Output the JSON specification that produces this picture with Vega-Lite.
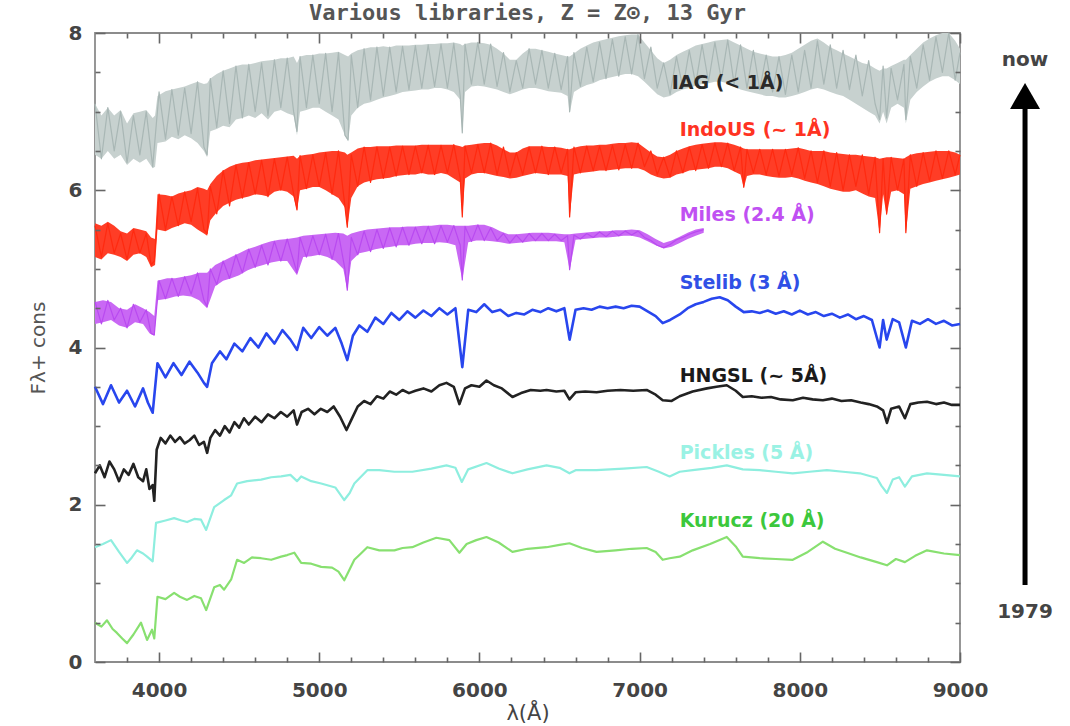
{
"$schema": "https://vega.github.io/schema/vega-lite/v6.json",
"width": 865, "height": 629,
"autosize": {"type": "none"},
"padding": {"left": 95, "top": 33, "right": 110, "bottom": 64},
"background": "white",
"config": {
  "view": {"stroke": "#8c8c8c", "strokeWidth": 1.8},
  "axis": {"grid": false, "domain": false, "labelFlush": false, "ticks": true, "tickColor": "#666666", "tickWidth": 1.6, "tickOpacity": 1, "labelFont": "DejaVu Sans", "labelFontWeight": "bold", "labelFontSize": 20, "labelColor": "#444444", "titleFont": "DejaVu Sans", "titleFontWeight": "normal", "titleColor": "#444444"}
},
"title": {"text": "Various libraries, Z = Z⊙, 13 Gyr", "font": "DejaVu Sans Mono", "fontSize": 22, "fontWeight": "bold", "color": "#555555", "offset": -2, "anchor": "middle"},
"datasets": {
 "band": [
{"s":"IAG","x":3600,"lo":6.45,"hi":7.10},{"s":"IAG","x":3640,"lo":6.40,"hi":6.95},{"s":"IAG","x":3680,"lo":6.50,"hi":7.05},{"s":"IAG","x":3720,"lo":6.40,"hi":6.95},{"s":"IAG","x":3760,"lo":6.45,"hi":7.02},{"s":"IAG","x":3800,"lo":6.32,"hi":6.85},{"s":"IAG","x":3840,"lo":6.40,"hi":6.98},{"s":"IAG","x":3880,"lo":6.35,"hi":7.00},{"s":"IAG","x":3920,"lo":6.40,"hi":7.02},{"s":"IAG","x":3960,"lo":6.28,"hi":6.92},{"s":"IAG","x":3975,"lo":6.30,"hi":6.95},{"s":"IAG","x":3990,"lo":6.60,"hi":7.20},{"s":"IAG","x":4040,"lo":6.62,"hi":7.26},{"s":"IAG","x":4080,"lo":6.68,"hi":7.28},{"s":"IAG","x":4120,"lo":6.65,"hi":7.30},{"s":"IAG","x":4160,"lo":6.70,"hi":7.32},{"s":"IAG","x":4200,"lo":6.66,"hi":7.35},{"s":"IAG","x":4240,"lo":6.60,"hi":7.38},{"s":"IAG","x":4280,"lo":6.50,"hi":7.35},{"s":"IAG","x":4300,"lo":6.42,"hi":7.36},{"s":"IAG","x":4320,"lo":6.75,"hi":7.42},{"s":"IAG","x":4360,"lo":6.78,"hi":7.48},{"s":"IAG","x":4400,"lo":6.82,"hi":7.52},{"s":"IAG","x":4440,"lo":6.80,"hi":7.55},{"s":"IAG","x":4480,"lo":6.90,"hi":7.58},{"s":"IAG","x":4520,"lo":6.92,"hi":7.60},{"s":"IAG","x":4560,"lo":6.95,"hi":7.60},{"s":"IAG","x":4600,"lo":6.92,"hi":7.62},{"s":"IAG","x":4640,"lo":6.98,"hi":7.64},{"s":"IAG","x":4680,"lo":6.90,"hi":7.65},{"s":"IAG","x":4720,"lo":7.00,"hi":7.66},{"s":"IAG","x":4760,"lo":7.02,"hi":7.68},{"s":"IAG","x":4800,"lo":6.98,"hi":7.68},{"s":"IAG","x":4840,"lo":6.95,"hi":7.70},{"s":"IAG","x":4861,"lo":6.70,"hi":7.62},{"s":"IAG","x":4880,"lo":7.00,"hi":7.70},{"s":"IAG","x":4920,"lo":7.02,"hi":7.72},{"s":"IAG","x":4960,"lo":7.05,"hi":7.72},{"s":"IAG","x":5000,"lo":7.05,"hi":7.74},{"s":"IAG","x":5040,"lo":7.00,"hi":7.74},{"s":"IAG","x":5080,"lo":6.95,"hi":7.75},{"s":"IAG","x":5120,"lo":6.90,"hi":7.76},{"s":"IAG","x":5160,"lo":6.70,"hi":7.72},{"s":"IAG","x":5180,"lo":6.62,"hi":7.70},{"s":"IAG","x":5200,"lo":6.95,"hi":7.74},{"s":"IAG","x":5240,"lo":7.05,"hi":7.78},{"s":"IAG","x":5280,"lo":7.10,"hi":7.80},{"s":"IAG","x":5320,"lo":7.12,"hi":7.82},{"s":"IAG","x":5360,"lo":7.15,"hi":7.82},{"s":"IAG","x":5400,"lo":7.18,"hi":7.83},{"s":"IAG","x":5440,"lo":7.20,"hi":7.82},{"s":"IAG","x":5480,"lo":7.22,"hi":7.84},{"s":"IAG","x":5520,"lo":7.25,"hi":7.84},{"s":"IAG","x":5560,"lo":7.26,"hi":7.84},{"s":"IAG","x":5600,"lo":7.27,"hi":7.85},{"s":"IAG","x":5640,"lo":7.28,"hi":7.85},{"s":"IAG","x":5680,"lo":7.28,"hi":7.86},{"s":"IAG","x":5720,"lo":7.30,"hi":7.86},{"s":"IAG","x":5760,"lo":7.30,"hi":7.87},{"s":"IAG","x":5800,"lo":7.28,"hi":7.87},{"s":"IAG","x":5840,"lo":7.25,"hi":7.88},{"s":"IAG","x":5880,"lo":7.15,"hi":7.86},{"s":"IAG","x":5893,"lo":6.72,"hi":7.84},{"s":"IAG","x":5910,"lo":7.25,"hi":7.86},{"s":"IAG","x":5950,"lo":7.32,"hi":7.88},{"s":"IAG","x":5990,"lo":7.33,"hi":7.88},{"s":"IAG","x":6030,"lo":7.32,"hi":7.87},{"s":"IAG","x":6070,"lo":7.30,"hi":7.85},{"s":"IAG","x":6110,"lo":7.28,"hi":7.80},{"s":"IAG","x":6150,"lo":7.25,"hi":7.74},{"s":"IAG","x":6190,"lo":7.22,"hi":7.66},{"s":"IAG","x":6230,"lo":7.25,"hi":7.66},{"s":"IAG","x":6270,"lo":7.28,"hi":7.74},{"s":"IAG","x":6310,"lo":7.30,"hi":7.80},{"s":"IAG","x":6350,"lo":7.30,"hi":7.80},{"s":"IAG","x":6390,"lo":7.28,"hi":7.78},{"s":"IAG","x":6430,"lo":7.26,"hi":7.76},{"s":"IAG","x":6470,"lo":7.25,"hi":7.74},{"s":"IAG","x":6510,"lo":7.24,"hi":7.72},{"s":"IAG","x":6550,"lo":7.20,"hi":7.70},{"s":"IAG","x":6563,"lo":6.98,"hi":7.70},{"s":"IAG","x":6590,"lo":7.25,"hi":7.74},{"s":"IAG","x":6630,"lo":7.30,"hi":7.80},{"s":"IAG","x":6670,"lo":7.34,"hi":7.84},{"s":"IAG","x":6710,"lo":7.36,"hi":7.88},{"s":"IAG","x":6750,"lo":7.40,"hi":7.90},{"s":"IAG","x":6790,"lo":7.42,"hi":7.92},{"s":"IAG","x":6830,"lo":7.44,"hi":7.94},{"s":"IAG","x":6870,"lo":7.46,"hi":7.96},{"s":"IAG","x":6910,"lo":7.48,"hi":7.97},{"s":"IAG","x":6950,"lo":7.48,"hi":7.98},{"s":"IAG","x":6990,"lo":7.45,"hi":7.98},{"s":"IAG","x":7030,"lo":7.38,"hi":7.88},{"s":"IAG","x":7070,"lo":7.30,"hi":7.78},{"s":"IAG","x":7110,"lo":7.22,"hi":7.68},{"s":"IAG","x":7150,"lo":7.18,"hi":7.62},{"s":"IAG","x":7190,"lo":7.20,"hi":7.66},{"s":"IAG","x":7230,"lo":7.25,"hi":7.72},{"s":"IAG","x":7270,"lo":7.28,"hi":7.76},{"s":"IAG","x":7310,"lo":7.30,"hi":7.80},{"s":"IAG","x":7350,"lo":7.33,"hi":7.84},{"s":"IAG","x":7390,"lo":7.35,"hi":7.86},{"s":"IAG","x":7430,"lo":7.36,"hi":7.88},{"s":"IAG","x":7470,"lo":7.38,"hi":7.90},{"s":"IAG","x":7510,"lo":7.38,"hi":7.91},{"s":"IAG","x":7550,"lo":7.36,"hi":7.92},{"s":"IAG","x":7590,"lo":7.32,"hi":7.88},{"s":"IAG","x":7630,"lo":7.28,"hi":7.84},{"s":"IAG","x":7670,"lo":7.26,"hi":7.80},{"s":"IAG","x":7710,"lo":7.24,"hi":7.76},{"s":"IAG","x":7750,"lo":7.22,"hi":7.74},{"s":"IAG","x":7790,"lo":7.20,"hi":7.72},{"s":"IAG","x":7830,"lo":7.20,"hi":7.70},{"s":"IAG","x":7870,"lo":7.18,"hi":7.70},{"s":"IAG","x":7910,"lo":7.18,"hi":7.72},{"s":"IAG","x":7950,"lo":7.20,"hi":7.75},{"s":"IAG","x":7990,"lo":7.22,"hi":7.80},{"s":"IAG","x":8030,"lo":7.25,"hi":7.85},{"s":"IAG","x":8070,"lo":7.28,"hi":7.90},{"s":"IAG","x":8110,"lo":7.30,"hi":7.93},{"s":"IAG","x":8150,"lo":7.28,"hi":7.88},{"s":"IAG","x":8190,"lo":7.25,"hi":7.82},{"s":"IAG","x":8230,"lo":7.22,"hi":7.78},{"s":"IAG","x":8270,"lo":7.20,"hi":7.74},{"s":"IAG","x":8310,"lo":7.15,"hi":7.70},{"s":"IAG","x":8350,"lo":7.10,"hi":7.66},{"s":"IAG","x":8390,"lo":7.05,"hi":7.62},{"s":"IAG","x":8430,"lo":7.00,"hi":7.60},{"s":"IAG","x":8470,"lo":6.95,"hi":7.55},{"s":"IAG","x":8498,"lo":6.85,"hi":7.52},{"s":"IAG","x":8520,"lo":7.00,"hi":7.55},{"s":"IAG","x":8542,"lo":6.85,"hi":7.55},{"s":"IAG","x":8570,"lo":7.05,"hi":7.58},{"s":"IAG","x":8610,"lo":7.10,"hi":7.62},{"s":"IAG","x":8650,"lo":7.05,"hi":7.66},{"s":"IAG","x":8662,"lo":6.85,"hi":7.66},{"s":"IAG","x":8690,"lo":7.15,"hi":7.72},{"s":"IAG","x":8730,"lo":7.25,"hi":7.80},{"s":"IAG","x":8770,"lo":7.32,"hi":7.88},{"s":"IAG","x":8810,"lo":7.38,"hi":7.93},{"s":"IAG","x":8850,"lo":7.42,"hi":7.97},{"s":"IAG","x":8890,"lo":7.45,"hi":8.00},{"s":"IAG","x":8930,"lo":7.45,"hi":8.00},{"s":"IAG","x":8970,"lo":7.40,"hi":7.90},{"s":"IAG","x":9000,"lo":7.35,"hi":7.80},
{"s":"IndoUS","x":3600,"lo":5.15,"hi":5.58},{"s":"IndoUS","x":3640,"lo":5.12,"hi":5.55},{"s":"IndoUS","x":3680,"lo":5.20,"hi":5.60},{"s":"IndoUS","x":3720,"lo":5.18,"hi":5.55},{"s":"IndoUS","x":3760,"lo":5.15,"hi":5.48},{"s":"IndoUS","x":3800,"lo":5.10,"hi":5.45},{"s":"IndoUS","x":3840,"lo":5.18,"hi":5.52},{"s":"IndoUS","x":3880,"lo":5.20,"hi":5.50},{"s":"IndoUS","x":3920,"lo":5.15,"hi":5.48},{"s":"IndoUS","x":3950,"lo":5.02,"hi":5.40},{"s":"IndoUS","x":3975,"lo":5.05,"hi":5.38},{"s":"IndoUS","x":3990,"lo":5.50,"hi":5.95},{"s":"IndoUS","x":4040,"lo":5.48,"hi":5.94},{"s":"IndoUS","x":4080,"lo":5.52,"hi":5.92},{"s":"IndoUS","x":4120,"lo":5.55,"hi":5.96},{"s":"IndoUS","x":4160,"lo":5.58,"hi":5.98},{"s":"IndoUS","x":4200,"lo":5.56,"hi":6.00},{"s":"IndoUS","x":4240,"lo":5.50,"hi":6.04},{"s":"IndoUS","x":4280,"lo":5.45,"hi":6.02},{"s":"IndoUS","x":4300,"lo":5.42,"hi":6.00},{"s":"IndoUS","x":4320,"lo":5.62,"hi":6.08},{"s":"IndoUS","x":4360,"lo":5.72,"hi":6.18},{"s":"IndoUS","x":4400,"lo":5.80,"hi":6.25},{"s":"IndoUS","x":4440,"lo":5.84,"hi":6.30},{"s":"IndoUS","x":4480,"lo":5.88,"hi":6.33},{"s":"IndoUS","x":4520,"lo":5.90,"hi":6.35},{"s":"IndoUS","x":4560,"lo":5.92,"hi":6.36},{"s":"IndoUS","x":4600,"lo":5.95,"hi":6.38},{"s":"IndoUS","x":4640,"lo":5.94,"hi":6.39},{"s":"IndoUS","x":4680,"lo":5.92,"hi":6.40},{"s":"IndoUS","x":4720,"lo":5.98,"hi":6.41},{"s":"IndoUS","x":4760,"lo":6.00,"hi":6.42},{"s":"IndoUS","x":4800,"lo":5.98,"hi":6.43},{"s":"IndoUS","x":4840,"lo":5.92,"hi":6.44},{"s":"IndoUS","x":4861,"lo":5.74,"hi":6.40},{"s":"IndoUS","x":4880,"lo":6.00,"hi":6.44},{"s":"IndoUS","x":4920,"lo":6.02,"hi":6.45},{"s":"IndoUS","x":4960,"lo":6.04,"hi":6.46},{"s":"IndoUS","x":5000,"lo":6.04,"hi":6.48},{"s":"IndoUS","x":5040,"lo":6.00,"hi":6.49},{"s":"IndoUS","x":5080,"lo":5.95,"hi":6.50},{"s":"IndoUS","x":5120,"lo":5.90,"hi":6.50},{"s":"IndoUS","x":5160,"lo":5.78,"hi":6.48},{"s":"IndoUS","x":5175,"lo":5.52,"hi":6.45},{"s":"IndoUS","x":5200,"lo":5.90,"hi":6.48},{"s":"IndoUS","x":5240,"lo":6.05,"hi":6.53},{"s":"IndoUS","x":5280,"lo":6.10,"hi":6.55},{"s":"IndoUS","x":5320,"lo":6.12,"hi":6.55},{"s":"IndoUS","x":5360,"lo":6.14,"hi":6.56},{"s":"IndoUS","x":5400,"lo":6.15,"hi":6.56},{"s":"IndoUS","x":5440,"lo":6.16,"hi":6.56},{"s":"IndoUS","x":5480,"lo":6.18,"hi":6.57},{"s":"IndoUS","x":5520,"lo":6.19,"hi":6.57},{"s":"IndoUS","x":5560,"lo":6.20,"hi":6.57},{"s":"IndoUS","x":5600,"lo":6.20,"hi":6.57},{"s":"IndoUS","x":5640,"lo":6.22,"hi":6.58},{"s":"IndoUS","x":5680,"lo":6.20,"hi":6.58},{"s":"IndoUS","x":5720,"lo":6.20,"hi":6.58},{"s":"IndoUS","x":5760,"lo":6.22,"hi":6.58},{"s":"IndoUS","x":5800,"lo":6.20,"hi":6.58},{"s":"IndoUS","x":5840,"lo":6.15,"hi":6.58},{"s":"IndoUS","x":5880,"lo":6.10,"hi":6.56},{"s":"IndoUS","x":5893,"lo":5.66,"hi":6.55},{"s":"IndoUS","x":5910,"lo":6.15,"hi":6.57},{"s":"IndoUS","x":5950,"lo":6.20,"hi":6.58},{"s":"IndoUS","x":5990,"lo":6.22,"hi":6.59},{"s":"IndoUS","x":6030,"lo":6.22,"hi":6.60},{"s":"IndoUS","x":6070,"lo":6.20,"hi":6.60},{"s":"IndoUS","x":6110,"lo":6.18,"hi":6.57},{"s":"IndoUS","x":6150,"lo":6.17,"hi":6.52},{"s":"IndoUS","x":6190,"lo":6.15,"hi":6.48},{"s":"IndoUS","x":6230,"lo":6.16,"hi":6.48},{"s":"IndoUS","x":6270,"lo":6.18,"hi":6.53},{"s":"IndoUS","x":6310,"lo":6.20,"hi":6.56},{"s":"IndoUS","x":6350,"lo":6.22,"hi":6.56},{"s":"IndoUS","x":6390,"lo":6.21,"hi":6.56},{"s":"IndoUS","x":6430,"lo":6.20,"hi":6.55},{"s":"IndoUS","x":6470,"lo":6.20,"hi":6.55},{"s":"IndoUS","x":6510,"lo":6.20,"hi":6.54},{"s":"IndoUS","x":6550,"lo":6.18,"hi":6.52},{"s":"IndoUS","x":6563,"lo":5.66,"hi":6.52},{"s":"IndoUS","x":6590,"lo":6.20,"hi":6.54},{"s":"IndoUS","x":6630,"lo":6.22,"hi":6.56},{"s":"IndoUS","x":6670,"lo":6.23,"hi":6.57},{"s":"IndoUS","x":6710,"lo":6.24,"hi":6.57},{"s":"IndoUS","x":6750,"lo":6.25,"hi":6.58},{"s":"IndoUS","x":6790,"lo":6.25,"hi":6.58},{"s":"IndoUS","x":6830,"lo":6.26,"hi":6.59},{"s":"IndoUS","x":6870,"lo":6.27,"hi":6.60},{"s":"IndoUS","x":6910,"lo":6.28,"hi":6.60},{"s":"IndoUS","x":6950,"lo":6.28,"hi":6.61},{"s":"IndoUS","x":6990,"lo":6.28,"hi":6.60},{"s":"IndoUS","x":7030,"lo":6.25,"hi":6.54},{"s":"IndoUS","x":7070,"lo":6.20,"hi":6.48},{"s":"IndoUS","x":7110,"lo":6.17,"hi":6.43},{"s":"IndoUS","x":7150,"lo":6.15,"hi":6.42},{"s":"IndoUS","x":7190,"lo":6.16,"hi":6.45},{"s":"IndoUS","x":7230,"lo":6.20,"hi":6.50},{"s":"IndoUS","x":7270,"lo":6.22,"hi":6.53},{"s":"IndoUS","x":7310,"lo":6.25,"hi":6.56},{"s":"IndoUS","x":7350,"lo":6.26,"hi":6.58},{"s":"IndoUS","x":7390,"lo":6.27,"hi":6.59},{"s":"IndoUS","x":7430,"lo":6.28,"hi":6.60},{"s":"IndoUS","x":7470,"lo":6.30,"hi":6.61},{"s":"IndoUS","x":7510,"lo":6.30,"hi":6.61},{"s":"IndoUS","x":7550,"lo":6.28,"hi":6.60},{"s":"IndoUS","x":7590,"lo":6.24,"hi":6.58},{"s":"IndoUS","x":7630,"lo":6.20,"hi":6.55},{"s":"IndoUS","x":7650,"lo":6.03,"hi":6.53},{"s":"IndoUS","x":7670,"lo":6.18,"hi":6.52},{"s":"IndoUS","x":7710,"lo":6.20,"hi":6.52},{"s":"IndoUS","x":7750,"lo":6.20,"hi":6.52},{"s":"IndoUS","x":7790,"lo":6.18,"hi":6.52},{"s":"IndoUS","x":7830,"lo":6.17,"hi":6.52},{"s":"IndoUS","x":7870,"lo":6.16,"hi":6.52},{"s":"IndoUS","x":7910,"lo":6.16,"hi":6.52},{"s":"IndoUS","x":7950,"lo":6.17,"hi":6.53},{"s":"IndoUS","x":7990,"lo":6.15,"hi":6.54},{"s":"IndoUS","x":8030,"lo":6.12,"hi":6.52},{"s":"IndoUS","x":8070,"lo":6.10,"hi":6.50},{"s":"IndoUS","x":8110,"lo":6.08,"hi":6.50},{"s":"IndoUS","x":8150,"lo":6.05,"hi":6.50},{"s":"IndoUS","x":8190,"lo":6.02,"hi":6.48},{"s":"IndoUS","x":8230,"lo":6.00,"hi":6.47},{"s":"IndoUS","x":8270,"lo":5.98,"hi":6.46},{"s":"IndoUS","x":8310,"lo":5.98,"hi":6.45},{"s":"IndoUS","x":8350,"lo":6.00,"hi":6.45},{"s":"IndoUS","x":8390,"lo":5.96,"hi":6.44},{"s":"IndoUS","x":8430,"lo":5.92,"hi":6.43},{"s":"IndoUS","x":8470,"lo":5.90,"hi":6.42},{"s":"IndoUS","x":8498,"lo":5.45,"hi":6.40},{"s":"IndoUS","x":8520,"lo":5.95,"hi":6.41},{"s":"IndoUS","x":8542,"lo":5.68,"hi":6.42},{"s":"IndoUS","x":8570,"lo":5.98,"hi":6.42},{"s":"IndoUS","x":8610,"lo":6.00,"hi":6.41},{"s":"IndoUS","x":8650,"lo":5.95,"hi":6.40},{"s":"IndoUS","x":8662,"lo":5.45,"hi":6.42},{"s":"IndoUS","x":8690,"lo":6.02,"hi":6.45},{"s":"IndoUS","x":8730,"lo":6.05,"hi":6.47},{"s":"IndoUS","x":8770,"lo":6.08,"hi":6.48},{"s":"IndoUS","x":8810,"lo":6.10,"hi":6.49},{"s":"IndoUS","x":8850,"lo":6.12,"hi":6.50},{"s":"IndoUS","x":8890,"lo":6.14,"hi":6.50},{"s":"IndoUS","x":8930,"lo":6.16,"hi":6.50},{"s":"IndoUS","x":8970,"lo":6.18,"hi":6.48},{"s":"IndoUS","x":9000,"lo":6.20,"hi":6.45},
{"s":"Miles","x":3600,"lo":4.30,"hi":4.58},{"s":"Miles","x":3650,"lo":4.32,"hi":4.60},{"s":"Miles","x":3700,"lo":4.35,"hi":4.58},{"s":"Miles","x":3750,"lo":4.28,"hi":4.50},{"s":"Miles","x":3800,"lo":4.25,"hi":4.48},{"s":"Miles","x":3850,"lo":4.32,"hi":4.55},{"s":"Miles","x":3900,"lo":4.30,"hi":4.50},{"s":"Miles","x":3940,"lo":4.18,"hi":4.45},{"s":"Miles","x":3970,"lo":4.15,"hi":4.40},{"s":"Miles","x":3990,"lo":4.60,"hi":4.85},{"s":"Miles","x":4050,"lo":4.62,"hi":4.88},{"s":"Miles","x":4100,"lo":4.65,"hi":4.88},{"s":"Miles","x":4150,"lo":4.66,"hi":4.90},{"s":"Miles","x":4200,"lo":4.65,"hi":4.92},{"s":"Miles","x":4250,"lo":4.60,"hi":4.95},{"s":"Miles","x":4300,"lo":4.50,"hi":4.95},{"s":"Miles","x":4350,"lo":4.78,"hi":5.05},{"s":"Miles","x":4400,"lo":4.85,"hi":5.10},{"s":"Miles","x":4450,"lo":4.88,"hi":5.15},{"s":"Miles","x":4500,"lo":4.92,"hi":5.20},{"s":"Miles","x":4550,"lo":4.98,"hi":5.25},{"s":"Miles","x":4600,"lo":5.02,"hi":5.28},{"s":"Miles","x":4650,"lo":5.05,"hi":5.32},{"s":"Miles","x":4700,"lo":5.08,"hi":5.35},{"s":"Miles","x":4750,"lo":5.10,"hi":5.37},{"s":"Miles","x":4800,"lo":5.10,"hi":5.38},{"s":"Miles","x":4861,"lo":4.92,"hi":5.40},{"s":"Miles","x":4900,"lo":5.15,"hi":5.42},{"s":"Miles","x":4950,"lo":5.16,"hi":5.43},{"s":"Miles","x":5000,"lo":5.18,"hi":5.44},{"s":"Miles","x":5050,"lo":5.15,"hi":5.45},{"s":"Miles","x":5100,"lo":5.10,"hi":5.46},{"s":"Miles","x":5150,"lo":5.00,"hi":5.45},{"s":"Miles","x":5175,"lo":4.73,"hi":5.42},{"s":"Miles","x":5200,"lo":5.10,"hi":5.45},{"s":"Miles","x":5250,"lo":5.20,"hi":5.48},{"s":"Miles","x":5300,"lo":5.22,"hi":5.50},{"s":"Miles","x":5350,"lo":5.25,"hi":5.51},{"s":"Miles","x":5400,"lo":5.27,"hi":5.52},{"s":"Miles","x":5450,"lo":5.28,"hi":5.53},{"s":"Miles","x":5500,"lo":5.30,"hi":5.53},{"s":"Miles","x":5550,"lo":5.30,"hi":5.54},{"s":"Miles","x":5600,"lo":5.32,"hi":5.54},{"s":"Miles","x":5650,"lo":5.33,"hi":5.55},{"s":"Miles","x":5700,"lo":5.33,"hi":5.55},{"s":"Miles","x":5750,"lo":5.34,"hi":5.56},{"s":"Miles","x":5800,"lo":5.33,"hi":5.56},{"s":"Miles","x":5850,"lo":5.30,"hi":5.55},{"s":"Miles","x":5893,"lo":4.86,"hi":5.55},{"s":"Miles","x":5930,"lo":5.34,"hi":5.55},{"s":"Miles","x":5980,"lo":5.36,"hi":5.56},{"s":"Miles","x":6030,"lo":5.36,"hi":5.56},{"s":"Miles","x":6080,"lo":5.35,"hi":5.53},{"s":"Miles","x":6130,"lo":5.34,"hi":5.48},{"s":"Miles","x":6180,"lo":5.32,"hi":5.44},{"s":"Miles","x":6230,"lo":5.33,"hi":5.44},{"s":"Miles","x":6280,"lo":5.34,"hi":5.45},{"s":"Miles","x":6330,"lo":5.35,"hi":5.46},{"s":"Miles","x":6380,"lo":5.35,"hi":5.46},{"s":"Miles","x":6430,"lo":5.35,"hi":5.46},{"s":"Miles","x":6480,"lo":5.35,"hi":5.45},{"s":"Miles","x":6530,"lo":5.34,"hi":5.44},{"s":"Miles","x":6563,"lo":4.99,"hi":5.44},{"s":"Miles","x":6600,"lo":5.37,"hi":5.45},{"s":"Miles","x":6650,"lo":5.38,"hi":5.46},{"s":"Miles","x":6700,"lo":5.39,"hi":5.47},{"s":"Miles","x":6750,"lo":5.40,"hi":5.48},{"s":"Miles","x":6800,"lo":5.40,"hi":5.48},{"s":"Miles","x":6850,"lo":5.41,"hi":5.49},{"s":"Miles","x":6900,"lo":5.42,"hi":5.49},{"s":"Miles","x":6950,"lo":5.42,"hi":5.50},{"s":"Miles","x":7000,"lo":5.40,"hi":5.49},{"s":"Miles","x":7050,"lo":5.35,"hi":5.44},{"s":"Miles","x":7100,"lo":5.30,"hi":5.38},{"s":"Miles","x":7150,"lo":5.26,"hi":5.33},{"s":"Miles","x":7200,"lo":5.28,"hi":5.36},{"s":"Miles","x":7250,"lo":5.33,"hi":5.41},{"s":"Miles","x":7300,"lo":5.38,"hi":5.46},{"s":"Miles","x":7350,"lo":5.42,"hi":5.50},{"s":"Miles","x":7400,"lo":5.46,"hi":5.52}
 ],
 "spec": [
{"s":"Kurucz","x":3600,"y":0.50},{"s":"Kurucz","x":3640,"y":0.45},{"s":"Kurucz","x":3675,"y":0.53},{"s":"Kurucz","x":3710,"y":0.42},{"s":"Kurucz","x":3737,"y":0.37},{"s":"Kurucz","x":3770,"y":0.30},{"s":"Kurucz","x":3800,"y":0.24},{"s":"Kurucz","x":3840,"y":0.35},{"s":"Kurucz","x":3887,"y":0.50},{"s":"Kurucz","x":3925,"y":0.28},{"s":"Kurucz","x":3956,"y":0.41},{"s":"Kurucz","x":3970,"y":0.30},{"s":"Kurucz","x":3990,"y":0.83},{"s":"Kurucz","x":4040,"y":0.80},{"s":"Kurucz","x":4094,"y":0.88},{"s":"Kurucz","x":4130,"y":0.83},{"s":"Kurucz","x":4175,"y":0.79},{"s":"Kurucz","x":4220,"y":0.84},{"s":"Kurucz","x":4262,"y":0.81},{"s":"Kurucz","x":4294,"y":0.66},{"s":"Kurucz","x":4344,"y":0.95},{"s":"Kurucz","x":4380,"y":0.98},{"s":"Kurucz","x":4406,"y":0.92},{"s":"Kurucz","x":4450,"y":1.05},{"s":"Kurucz","x":4487,"y":1.30},{"s":"Kurucz","x":4531,"y":1.26},{"s":"Kurucz","x":4580,"y":1.33},{"s":"Kurucz","x":4637,"y":1.32},{"s":"Kurucz","x":4700,"y":1.30},{"s":"Kurucz","x":4762,"y":1.34},{"s":"Kurucz","x":4800,"y":1.36},{"s":"Kurucz","x":4844,"y":1.39},{"s":"Kurucz","x":4887,"y":1.26},{"s":"Kurucz","x":4950,"y":1.25},{"s":"Kurucz","x":5012,"y":1.21},{"s":"Kurucz","x":5080,"y":1.20},{"s":"Kurucz","x":5120,"y":1.15},{"s":"Kurucz","x":5156,"y":1.04},{"s":"Kurucz","x":5190,"y":1.18},{"s":"Kurucz","x":5219,"y":1.30},{"s":"Kurucz","x":5260,"y":1.38},{"s":"Kurucz","x":5300,"y":1.46},{"s":"Kurucz","x":5375,"y":1.42},{"s":"Kurucz","x":5469,"y":1.42},{"s":"Kurucz","x":5520,"y":1.45},{"s":"Kurucz","x":5581,"y":1.46},{"s":"Kurucz","x":5650,"y":1.52},{"s":"Kurucz","x":5731,"y":1.58},{"s":"Kurucz","x":5812,"y":1.55},{"s":"Kurucz","x":5875,"y":1.39},{"s":"Kurucz","x":5920,"y":1.50},{"s":"Kurucz","x":5980,"y":1.55},{"s":"Kurucz","x":6044,"y":1.59},{"s":"Kurucz","x":6120,"y":1.52},{"s":"Kurucz","x":6206,"y":1.40},{"s":"Kurucz","x":6300,"y":1.44},{"s":"Kurucz","x":6419,"y":1.46},{"s":"Kurucz","x":6500,"y":1.49},{"s":"Kurucz","x":6562,"y":1.51},{"s":"Kurucz","x":6640,"y":1.45},{"s":"Kurucz","x":6731,"y":1.40},{"s":"Kurucz","x":6850,"y":1.42},{"s":"Kurucz","x":6950,"y":1.44},{"s":"Kurucz","x":7044,"y":1.45},{"s":"Kurucz","x":7100,"y":1.40},{"s":"Kurucz","x":7144,"y":1.30},{"s":"Kurucz","x":7187,"y":1.32},{"s":"Kurucz","x":7250,"y":1.34},{"s":"Kurucz","x":7331,"y":1.42},{"s":"Kurucz","x":7440,"y":1.50},{"s":"Kurucz","x":7544,"y":1.59},{"s":"Kurucz","x":7600,"y":1.47},{"s":"Kurucz","x":7644,"y":1.34},{"s":"Kurucz","x":7750,"y":1.32},{"s":"Kurucz","x":7850,"y":1.31},{"s":"Kurucz","x":7956,"y":1.30},{"s":"Kurucz","x":8050,"y":1.40},{"s":"Kurucz","x":8144,"y":1.53},{"s":"Kurucz","x":8220,"y":1.44},{"s":"Kurucz","x":8294,"y":1.39},{"s":"Kurucz","x":8380,"y":1.33},{"s":"Kurucz","x":8481,"y":1.27},{"s":"Kurucz","x":8544,"y":1.23},{"s":"Kurucz","x":8600,"y":1.31},{"s":"Kurucz","x":8656,"y":1.27},{"s":"Kurucz","x":8720,"y":1.35},{"s":"Kurucz","x":8794,"y":1.42},{"s":"Kurucz","x":8900,"y":1.38},{"s":"Kurucz","x":9000,"y":1.36},
{"s":"Pickles","x":3600,"y":1.46},{"s":"Pickles","x":3650,"y":1.50},{"s":"Pickles","x":3700,"y":1.55},{"s":"Pickles","x":3750,"y":1.40},{"s":"Pickles","x":3800,"y":1.26},{"s":"Pickles","x":3830,"y":1.33},{"s":"Pickles","x":3862,"y":1.42},{"s":"Pickles","x":3900,"y":1.38},{"s":"Pickles","x":3925,"y":1.34},{"s":"Pickles","x":3960,"y":1.28},{"s":"Pickles","x":3981,"y":1.77},{"s":"Pickles","x":4040,"y":1.80},{"s":"Pickles","x":4094,"y":1.83},{"s":"Pickles","x":4140,"y":1.80},{"s":"Pickles","x":4175,"y":1.78},{"s":"Pickles","x":4220,"y":1.82},{"s":"Pickles","x":4262,"y":1.81},{"s":"Pickles","x":4294,"y":1.68},{"s":"Pickles","x":4344,"y":1.97},{"s":"Pickles","x":4406,"y":2.06},{"s":"Pickles","x":4450,"y":2.12},{"s":"Pickles","x":4487,"y":2.27},{"s":"Pickles","x":4550,"y":2.30},{"s":"Pickles","x":4637,"y":2.32},{"s":"Pickles","x":4700,"y":2.35},{"s":"Pickles","x":4762,"y":2.36},{"s":"Pickles","x":4820,"y":2.38},{"s":"Pickles","x":4861,"y":2.30},{"s":"Pickles","x":4887,"y":2.36},{"s":"Pickles","x":4950,"y":2.30},{"s":"Pickles","x":5012,"y":2.27},{"s":"Pickles","x":5100,"y":2.22},{"s":"Pickles","x":5156,"y":2.06},{"s":"Pickles","x":5190,"y":2.15},{"s":"Pickles","x":5219,"y":2.27},{"s":"Pickles","x":5300,"y":2.44},{"s":"Pickles","x":5375,"y":2.44},{"s":"Pickles","x":5469,"y":2.42},{"s":"Pickles","x":5581,"y":2.42},{"s":"Pickles","x":5700,"y":2.46},{"s":"Pickles","x":5794,"y":2.50},{"s":"Pickles","x":5850,"y":2.47},{"s":"Pickles","x":5890,"y":2.29},{"s":"Pickles","x":5930,"y":2.45},{"s":"Pickles","x":6044,"y":2.53},{"s":"Pickles","x":6120,"y":2.46},{"s":"Pickles","x":6206,"y":2.40},{"s":"Pickles","x":6300,"y":2.45},{"s":"Pickles","x":6419,"y":2.50},{"s":"Pickles","x":6500,"y":2.47},{"s":"Pickles","x":6562,"y":2.40},{"s":"Pickles","x":6600,"y":2.44},{"s":"Pickles","x":6731,"y":2.44},{"s":"Pickles","x":6900,"y":2.46},{"s":"Pickles","x":7044,"y":2.48},{"s":"Pickles","x":7120,"y":2.42},{"s":"Pickles","x":7187,"y":2.36},{"s":"Pickles","x":7250,"y":2.42},{"s":"Pickles","x":7331,"y":2.44},{"s":"Pickles","x":7450,"y":2.47},{"s":"Pickles","x":7544,"y":2.50},{"s":"Pickles","x":7644,"y":2.45},{"s":"Pickles","x":7750,"y":2.44},{"s":"Pickles","x":7850,"y":2.42},{"s":"Pickles","x":7956,"y":2.40},{"s":"Pickles","x":8060,"y":2.42},{"s":"Pickles","x":8169,"y":2.44},{"s":"Pickles","x":8270,"y":2.42},{"s":"Pickles","x":8375,"y":2.40},{"s":"Pickles","x":8481,"y":2.34},{"s":"Pickles","x":8510,"y":2.24},{"s":"Pickles","x":8544,"y":2.15},{"s":"Pickles","x":8580,"y":2.32},{"s":"Pickles","x":8620,"y":2.35},{"s":"Pickles","x":8656,"y":2.23},{"s":"Pickles","x":8700,"y":2.36},{"s":"Pickles","x":8794,"y":2.40},{"s":"Pickles","x":8900,"y":2.38},{"s":"Pickles","x":9000,"y":2.36},
{"s":"HNGSL","x":3600,"y":2.40},{"s":"HNGSL","x":3630,"y":2.50},{"s":"HNGSL","x":3660,"y":2.35},{"s":"HNGSL","x":3690,"y":2.55},{"s":"HNGSL","x":3720,"y":2.45},{"s":"HNGSL","x":3750,"y":2.30},{"s":"HNGSL","x":3780,"y":2.45},{"s":"HNGSL","x":3810,"y":2.38},{"s":"HNGSL","x":3840,"y":2.52},{"s":"HNGSL","x":3870,"y":2.35},{"s":"HNGSL","x":3900,"y":2.30},{"s":"HNGSL","x":3920,"y":2.45},{"s":"HNGSL","x":3940,"y":2.20},{"s":"HNGSL","x":3960,"y":2.25},{"s":"HNGSL","x":3970,"y":2.05},{"s":"HNGSL","x":3985,"y":2.70},{"s":"HNGSL","x":4010,"y":2.85},{"s":"HNGSL","x":4040,"y":2.78},{"s":"HNGSL","x":4070,"y":2.88},{"s":"HNGSL","x":4100,"y":2.80},{"s":"HNGSL","x":4130,"y":2.86},{"s":"HNGSL","x":4160,"y":2.78},{"s":"HNGSL","x":4190,"y":2.82},{"s":"HNGSL","x":4220,"y":2.88},{"s":"HNGSL","x":4250,"y":2.76},{"s":"HNGSL","x":4280,"y":2.80},{"s":"HNGSL","x":4300,"y":2.66},{"s":"HNGSL","x":4320,"y":2.85},{"s":"HNGSL","x":4350,"y":2.95},{"s":"HNGSL","x":4380,"y":2.88},{"s":"HNGSL","x":4410,"y":3.00},{"s":"HNGSL","x":4440,"y":2.92},{"s":"HNGSL","x":4470,"y":3.05},{"s":"HNGSL","x":4500,"y":2.98},{"s":"HNGSL","x":4530,"y":3.10},{"s":"HNGSL","x":4560,"y":3.02},{"s":"HNGSL","x":4600,"y":3.12},{"s":"HNGSL","x":4640,"y":3.05},{"s":"HNGSL","x":4680,"y":3.15},{"s":"HNGSL","x":4720,"y":3.10},{"s":"HNGSL","x":4760,"y":3.18},{"s":"HNGSL","x":4800,"y":3.12},{"s":"HNGSL","x":4840,"y":3.20},{"s":"HNGSL","x":4861,"y":3.02},{"s":"HNGSL","x":4890,"y":3.18},{"s":"HNGSL","x":4930,"y":3.22},{"s":"HNGSL","x":4970,"y":3.15},{"s":"HNGSL","x":5010,"y":3.22},{"s":"HNGSL","x":5050,"y":3.18},{"s":"HNGSL","x":5090,"y":3.25},{"s":"HNGSL","x":5130,"y":3.12},{"s":"HNGSL","x":5170,"y":2.95},{"s":"HNGSL","x":5200,"y":3.08},{"s":"HNGSL","x":5240,"y":3.25},{"s":"HNGSL","x":5280,"y":3.32},{"s":"HNGSL","x":5320,"y":3.28},{"s":"HNGSL","x":5360,"y":3.38},{"s":"HNGSL","x":5400,"y":3.35},{"s":"HNGSL","x":5440,"y":3.44},{"s":"HNGSL","x":5480,"y":3.40},{"s":"HNGSL","x":5520,"y":3.46},{"s":"HNGSL","x":5560,"y":3.42},{"s":"HNGSL","x":5600,"y":3.45},{"s":"HNGSL","x":5650,"y":3.48},{"s":"HNGSL","x":5700,"y":3.44},{"s":"HNGSL","x":5750,"y":3.52},{"s":"HNGSL","x":5794,"y":3.55},{"s":"HNGSL","x":5840,"y":3.50},{"s":"HNGSL","x":5875,"y":3.28},{"s":"HNGSL","x":5910,"y":3.48},{"s":"HNGSL","x":5950,"y":3.52},{"s":"HNGSL","x":6000,"y":3.50},{"s":"HNGSL","x":6044,"y":3.58},{"s":"HNGSL","x":6090,"y":3.52},{"s":"HNGSL","x":6140,"y":3.48},{"s":"HNGSL","x":6206,"y":3.37},{"s":"HNGSL","x":6260,"y":3.42},{"s":"HNGSL","x":6320,"y":3.46},{"s":"HNGSL","x":6380,"y":3.45},{"s":"HNGSL","x":6419,"y":3.46},{"s":"HNGSL","x":6480,"y":3.44},{"s":"HNGSL","x":6530,"y":3.45},{"s":"HNGSL","x":6562,"y":3.34},{"s":"HNGSL","x":6600,"y":3.43},{"s":"HNGSL","x":6660,"y":3.44},{"s":"HNGSL","x":6731,"y":3.43},{"s":"HNGSL","x":6800,"y":3.45},{"s":"HNGSL","x":6880,"y":3.46},{"s":"HNGSL","x":6960,"y":3.45},{"s":"HNGSL","x":7044,"y":3.46},{"s":"HNGSL","x":7100,"y":3.40},{"s":"HNGSL","x":7144,"y":3.33},{"s":"HNGSL","x":7200,"y":3.32},{"s":"HNGSL","x":7250,"y":3.38},{"s":"HNGSL","x":7331,"y":3.44},{"s":"HNGSL","x":7420,"y":3.48},{"s":"HNGSL","x":7480,"y":3.50},{"s":"HNGSL","x":7544,"y":3.52},{"s":"HNGSL","x":7600,"y":3.45},{"s":"HNGSL","x":7644,"y":3.37},{"s":"HNGSL","x":7700,"y":3.38},{"s":"HNGSL","x":7760,"y":3.36},{"s":"HNGSL","x":7820,"y":3.37},{"s":"HNGSL","x":7880,"y":3.34},{"s":"HNGSL","x":7956,"y":3.33},{"s":"HNGSL","x":8020,"y":3.36},{"s":"HNGSL","x":8080,"y":3.34},{"s":"HNGSL","x":8144,"y":3.33},{"s":"HNGSL","x":8200,"y":3.35},{"s":"HNGSL","x":8260,"y":3.32},{"s":"HNGSL","x":8320,"y":3.33},{"s":"HNGSL","x":8380,"y":3.30},{"s":"HNGSL","x":8430,"y":3.28},{"s":"HNGSL","x":8481,"y":3.25},{"s":"HNGSL","x":8520,"y":3.20},{"s":"HNGSL","x":8544,"y":3.04},{"s":"HNGSL","x":8570,"y":3.22},{"s":"HNGSL","x":8620,"y":3.25},{"s":"HNGSL","x":8656,"y":3.10},{"s":"HNGSL","x":8690,"y":3.28},{"s":"HNGSL","x":8740,"y":3.30},{"s":"HNGSL","x":8794,"y":3.31},{"s":"HNGSL","x":8850,"y":3.28},{"s":"HNGSL","x":8900,"y":3.30},{"s":"HNGSL","x":8950,"y":3.27},{"s":"HNGSL","x":9000,"y":3.27},
{"s":"Stelib","x":3600,"y":3.50},{"s":"Stelib","x":3650,"y":3.28},{"s":"Stelib","x":3700,"y":3.52},{"s":"Stelib","x":3750,"y":3.30},{"s":"Stelib","x":3800,"y":3.45},{"s":"Stelib","x":3850,"y":3.25},{"s":"Stelib","x":3900,"y":3.48},{"s":"Stelib","x":3930,"y":3.30},{"s":"Stelib","x":3960,"y":3.17},{"s":"Stelib","x":3990,"y":3.80},{"s":"Stelib","x":4040,"y":3.62},{"s":"Stelib","x":4090,"y":3.80},{"s":"Stelib","x":4140,"y":3.65},{"s":"Stelib","x":4190,"y":3.82},{"s":"Stelib","x":4240,"y":3.68},{"s":"Stelib","x":4280,"y":3.55},{"s":"Stelib","x":4300,"y":3.50},{"s":"Stelib","x":4330,"y":3.80},{"s":"Stelib","x":4380,"y":3.95},{"s":"Stelib","x":4420,"y":3.85},{"s":"Stelib","x":4470,"y":4.05},{"s":"Stelib","x":4520,"y":3.95},{"s":"Stelib","x":4570,"y":4.12},{"s":"Stelib","x":4620,"y":4.00},{"s":"Stelib","x":4670,"y":4.18},{"s":"Stelib","x":4720,"y":4.05},{"s":"Stelib","x":4770,"y":4.22},{"s":"Stelib","x":4820,"y":4.10},{"s":"Stelib","x":4861,"y":3.97},{"s":"Stelib","x":4900,"y":4.25},{"s":"Stelib","x":4950,"y":4.12},{"s":"Stelib","x":5000,"y":4.26},{"s":"Stelib","x":5050,"y":4.15},{"s":"Stelib","x":5100,"y":4.25},{"s":"Stelib","x":5140,"y":4.05},{"s":"Stelib","x":5175,"y":3.84},{"s":"Stelib","x":5210,"y":4.15},{"s":"Stelib","x":5250,"y":4.28},{"s":"Stelib","x":5300,"y":4.20},{"s":"Stelib","x":5350,"y":4.38},{"s":"Stelib","x":5400,"y":4.30},{"s":"Stelib","x":5450,"y":4.44},{"s":"Stelib","x":5500,"y":4.35},{"s":"Stelib","x":5550,"y":4.46},{"s":"Stelib","x":5600,"y":4.38},{"s":"Stelib","x":5650,"y":4.47},{"s":"Stelib","x":5700,"y":4.40},{"s":"Stelib","x":5750,"y":4.50},{"s":"Stelib","x":5800,"y":4.42},{"s":"Stelib","x":5850,"y":4.50},{"s":"Stelib","x":5893,"y":3.75},{"s":"Stelib","x":5930,"y":4.48},{"s":"Stelib","x":5980,"y":4.45},{"s":"Stelib","x":6030,"y":4.55},{"s":"Stelib","x":6080,"y":4.45},{"s":"Stelib","x":6130,"y":4.48},{"s":"Stelib","x":6180,"y":4.40},{"s":"Stelib","x":6230,"y":4.44},{"s":"Stelib","x":6280,"y":4.42},{"s":"Stelib","x":6330,"y":4.48},{"s":"Stelib","x":6380,"y":4.45},{"s":"Stelib","x":6430,"y":4.50},{"s":"Stelib","x":6480,"y":4.46},{"s":"Stelib","x":6530,"y":4.50},{"s":"Stelib","x":6563,"y":4.10},{"s":"Stelib","x":6600,"y":4.48},{"s":"Stelib","x":6650,"y":4.50},{"s":"Stelib","x":6700,"y":4.48},{"s":"Stelib","x":6750,"y":4.52},{"s":"Stelib","x":6800,"y":4.50},{"s":"Stelib","x":6850,"y":4.52},{"s":"Stelib","x":6900,"y":4.50},{"s":"Stelib","x":6950,"y":4.53},{"s":"Stelib","x":7000,"y":4.52},{"s":"Stelib","x":7050,"y":4.46},{"s":"Stelib","x":7100,"y":4.40},{"s":"Stelib","x":7144,"y":4.31},{"s":"Stelib","x":7190,"y":4.35},{"s":"Stelib","x":7250,"y":4.42},{"s":"Stelib","x":7300,"y":4.50},{"s":"Stelib","x":7350,"y":4.55},{"s":"Stelib","x":7400,"y":4.58},{"s":"Stelib","x":7450,"y":4.62},{"s":"Stelib","x":7500,"y":4.64},{"s":"Stelib","x":7550,"y":4.60},{"s":"Stelib","x":7600,"y":4.52},{"s":"Stelib","x":7650,"y":4.45},{"s":"Stelib","x":7700,"y":4.46},{"s":"Stelib","x":7750,"y":4.44},{"s":"Stelib","x":7800,"y":4.47},{"s":"Stelib","x":7850,"y":4.43},{"s":"Stelib","x":7900,"y":4.46},{"s":"Stelib","x":7950,"y":4.42},{"s":"Stelib","x":8000,"y":4.47},{"s":"Stelib","x":8050,"y":4.42},{"s":"Stelib","x":8100,"y":4.45},{"s":"Stelib","x":8150,"y":4.40},{"s":"Stelib","x":8200,"y":4.43},{"s":"Stelib","x":8250,"y":4.38},{"s":"Stelib","x":8300,"y":4.42},{"s":"Stelib","x":8350,"y":4.36},{"s":"Stelib","x":8400,"y":4.40},{"s":"Stelib","x":8450,"y":4.35},{"s":"Stelib","x":8498,"y":4.00},{"s":"Stelib","x":8520,"y":4.35},{"s":"Stelib","x":8542,"y":4.10},{"s":"Stelib","x":8580,"y":4.36},{"s":"Stelib","x":8620,"y":4.32},{"s":"Stelib","x":8662,"y":4.00},{"s":"Stelib","x":8700,"y":4.34},{"s":"Stelib","x":8750,"y":4.30},{"s":"Stelib","x":8800,"y":4.36},{"s":"Stelib","x":8850,"y":4.30},{"s":"Stelib","x":8900,"y":4.34},{"s":"Stelib","x":8950,"y":4.28},{"s":"Stelib","x":9000,"y":4.30},
{"s":"Miles","x":3600,"y":4.58},{"s":"Miles","x":3640,"y":4.30},{"s":"Miles","x":3680,"y":4.60},{"s":"Miles","x":3720,"y":4.35},{"s":"Miles","x":3760,"y":4.50},{"s":"Miles","x":3800,"y":4.25},{"s":"Miles","x":3840,"y":4.55},{"s":"Miles","x":3880,"y":4.32},{"s":"Miles","x":3920,"y":4.48},{"s":"Miles","x":3950,"y":4.18},{"s":"Miles","x":3970,"y":4.16},{"s":"Miles","x":4000,"y":4.85},{"s":"Miles","x":4040,"y":4.62},{"s":"Miles","x":4080,"y":4.88},{"s":"Miles","x":4120,"y":4.65},{"s":"Miles","x":4160,"y":4.90},{"s":"Miles","x":4200,"y":4.68},{"s":"Miles","x":4240,"y":4.95},{"s":"Miles","x":4280,"y":4.60},{"s":"Miles","x":4300,"y":4.52},{"s":"Miles","x":4320,"y":5.00},{"s":"Miles","x":4360,"y":4.80},{"s":"Miles","x":4400,"y":5.10},{"s":"Miles","x":4440,"y":4.88},{"s":"Miles","x":4480,"y":5.18},{"s":"Miles","x":4520,"y":4.95},{"s":"Miles","x":4560,"y":5.25},{"s":"Miles","x":4600,"y":5.02},{"s":"Miles","x":4640,"y":5.30},{"s":"Miles","x":4680,"y":5.05},{"s":"Miles","x":4720,"y":5.35},{"s":"Miles","x":4760,"y":5.10},{"s":"Miles","x":4800,"y":5.38},{"s":"Miles","x":4840,"y":5.10},{"s":"Miles","x":4861,"y":4.95},{"s":"Miles","x":4880,"y":5.40},{"s":"Miles","x":4920,"y":5.15},{"s":"Miles","x":4960,"y":5.42},{"s":"Miles","x":5000,"y":5.18},{"s":"Miles","x":5040,"y":5.44},{"s":"Miles","x":5080,"y":5.12},{"s":"Miles","x":5120,"y":5.45},{"s":"Miles","x":5160,"y":5.00},{"s":"Miles","x":5175,"y":4.73},{"s":"Miles","x":5200,"y":5.40},{"s":"Miles","x":5240,"y":5.18},{"s":"Miles","x":5280,"y":5.48},{"s":"Miles","x":5320,"y":5.22},{"s":"Miles","x":5360,"y":5.50},{"s":"Miles","x":5400,"y":5.26},{"s":"Miles","x":5440,"y":5.52},{"s":"Miles","x":5480,"y":5.28},{"s":"Miles","x":5520,"y":5.53},{"s":"Miles","x":5560,"y":5.30},{"s":"Miles","x":5600,"y":5.53},{"s":"Miles","x":5640,"y":5.32},{"s":"Miles","x":5680,"y":5.54},{"s":"Miles","x":5720,"y":5.32},{"s":"Miles","x":5760,"y":5.55},{"s":"Miles","x":5800,"y":5.34},{"s":"Miles","x":5840,"y":5.55},{"s":"Miles","x":5880,"y":5.30},{"s":"Miles","x":5893,"y":4.86},{"s":"Miles","x":5910,"y":5.54},{"s":"Miles","x":5950,"y":5.35},{"s":"Miles","x":5990,"y":5.56},{"s":"Miles","x":6030,"y":5.36},{"s":"Miles","x":6070,"y":5.52},{"s":"Miles","x":6110,"y":5.36},{"s":"Miles","x":6150,"y":5.45},{"s":"Miles","x":6190,"y":5.33},{"s":"Miles","x":6230,"y":5.43},{"s":"Miles","x":6270,"y":5.34},{"s":"Miles","x":6310,"y":5.45},{"s":"Miles","x":6350,"y":5.36},{"s":"Miles","x":6390,"y":5.45},{"s":"Miles","x":6430,"y":5.36},{"s":"Miles","x":6470,"y":5.44},{"s":"Miles","x":6510,"y":5.36},{"s":"Miles","x":6550,"y":5.42},{"s":"Miles","x":6563,"y":4.99},{"s":"Miles","x":6590,"y":5.43},{"s":"Miles","x":6630,"y":5.38},{"s":"Miles","x":6670,"y":5.45},{"s":"Miles","x":6710,"y":5.40},{"s":"Miles","x":6750,"y":5.47},{"s":"Miles","x":6790,"y":5.41},{"s":"Miles","x":6830,"y":5.48},{"s":"Miles","x":6870,"y":5.42},{"s":"Miles","x":6910,"y":5.48},{"s":"Miles","x":6950,"y":5.43},{"s":"Miles","x":6990,"y":5.48},{"s":"Miles","x":7030,"y":5.40},{"s":"Miles","x":7070,"y":5.36},{"s":"Miles","x":7110,"y":5.30},{"s":"Miles","x":7150,"y":5.27},{"s":"Miles","x":7190,"y":5.31},{"s":"Miles","x":7230,"y":5.37},{"s":"Miles","x":7270,"y":5.40},{"s":"Miles","x":7310,"y":5.44},{"s":"Miles","x":7350,"y":5.47},{"s":"Miles","x":7400,"y":5.50},
{"s":"IndoUS","x":3600,"y":5.55},{"s":"IndoUS","x":3640,"y":5.15},{"s":"IndoUS","x":3680,"y":5.58},{"s":"IndoUS","x":3720,"y":5.20},{"s":"IndoUS","x":3760,"y":5.45},{"s":"IndoUS","x":3800,"y":5.12},{"s":"IndoUS","x":3840,"y":5.50},{"s":"IndoUS","x":3880,"y":5.20},{"s":"IndoUS","x":3920,"y":5.45},{"s":"IndoUS","x":3950,"y":5.05},{"s":"IndoUS","x":3970,"y":5.10},{"s":"IndoUS","x":4000,"y":5.95},{"s":"IndoUS","x":4040,"y":5.50},{"s":"IndoUS","x":4080,"y":5.92},{"s":"IndoUS","x":4120,"y":5.55},{"s":"IndoUS","x":4160,"y":5.98},{"s":"IndoUS","x":4200,"y":5.60},{"s":"IndoUS","x":4240,"y":6.02},{"s":"IndoUS","x":4280,"y":5.50},{"s":"IndoUS","x":4300,"y":5.45},{"s":"IndoUS","x":4320,"y":6.05},{"s":"IndoUS","x":4360,"y":5.70},{"s":"IndoUS","x":4400,"y":6.25},{"s":"IndoUS","x":4440,"y":5.80},{"s":"IndoUS","x":4480,"y":6.32},{"s":"IndoUS","x":4520,"y":5.90},{"s":"IndoUS","x":4560,"y":6.35},{"s":"IndoUS","x":4600,"y":5.95},{"s":"IndoUS","x":4640,"y":6.38},{"s":"IndoUS","x":4680,"y":5.92},{"s":"IndoUS","x":4720,"y":6.40},{"s":"IndoUS","x":4760,"y":6.00},{"s":"IndoUS","x":4800,"y":6.42},{"s":"IndoUS","x":4840,"y":5.95},{"s":"IndoUS","x":4861,"y":5.75},{"s":"IndoUS","x":4880,"y":6.44},{"s":"IndoUS","x":4920,"y":6.02},{"s":"IndoUS","x":4960,"y":6.45},{"s":"IndoUS","x":5000,"y":6.05},{"s":"IndoUS","x":5040,"y":6.48},{"s":"IndoUS","x":5080,"y":5.95},{"s":"IndoUS","x":5120,"y":6.50},{"s":"IndoUS","x":5160,"y":5.80},{"s":"IndoUS","x":5175,"y":5.53},{"s":"IndoUS","x":5200,"y":6.45},{"s":"IndoUS","x":5240,"y":6.05},{"s":"IndoUS","x":5280,"y":6.55},{"s":"IndoUS","x":5320,"y":6.10},{"s":"IndoUS","x":5360,"y":6.55},{"s":"IndoUS","x":5400,"y":6.15},{"s":"IndoUS","x":5440,"y":6.55},{"s":"IndoUS","x":5480,"y":6.18},{"s":"IndoUS","x":5520,"y":6.56},{"s":"IndoUS","x":5560,"y":6.20},{"s":"IndoUS","x":5600,"y":6.56},{"s":"IndoUS","x":5640,"y":6.22},{"s":"IndoUS","x":5680,"y":6.57},{"s":"IndoUS","x":5720,"y":6.20},{"s":"IndoUS","x":5760,"y":6.57},{"s":"IndoUS","x":5800,"y":6.22},{"s":"IndoUS","x":5840,"y":6.58},{"s":"IndoUS","x":5880,"y":6.15},{"s":"IndoUS","x":5893,"y":5.66},{"s":"IndoUS","x":5910,"y":6.56},{"s":"IndoUS","x":5950,"y":6.22},{"s":"IndoUS","x":5990,"y":6.58},{"s":"IndoUS","x":6030,"y":6.22},{"s":"IndoUS","x":6070,"y":6.60},{"s":"IndoUS","x":6110,"y":6.20},{"s":"IndoUS","x":6150,"y":6.55},{"s":"IndoUS","x":6190,"y":6.18},{"s":"IndoUS","x":6230,"y":6.48},{"s":"IndoUS","x":6270,"y":6.20},{"s":"IndoUS","x":6310,"y":6.55},{"s":"IndoUS","x":6350,"y":6.22},{"s":"IndoUS","x":6390,"y":6.56},{"s":"IndoUS","x":6430,"y":6.20},{"s":"IndoUS","x":6470,"y":6.55},{"s":"IndoUS","x":6510,"y":6.22},{"s":"IndoUS","x":6550,"y":6.52},{"s":"IndoUS","x":6563,"y":5.66},{"s":"IndoUS","x":6590,"y":6.55},{"s":"IndoUS","x":6630,"y":6.22},{"s":"IndoUS","x":6670,"y":6.56},{"s":"IndoUS","x":6710,"y":6.25},{"s":"IndoUS","x":6750,"y":6.56},{"s":"IndoUS","x":6790,"y":6.25},{"s":"IndoUS","x":6830,"y":6.57},{"s":"IndoUS","x":6870,"y":6.26},{"s":"IndoUS","x":6910,"y":6.58},{"s":"IndoUS","x":6950,"y":6.28},{"s":"IndoUS","x":6990,"y":6.60},{"s":"IndoUS","x":7030,"y":6.30},{"s":"IndoUS","x":7070,"y":6.50},{"s":"IndoUS","x":7110,"y":6.20},{"s":"IndoUS","x":7150,"y":6.42},{"s":"IndoUS","x":7190,"y":6.17},{"s":"IndoUS","x":7230,"y":6.50},{"s":"IndoUS","x":7270,"y":6.22},{"s":"IndoUS","x":7310,"y":6.55},{"s":"IndoUS","x":7350,"y":6.25},{"s":"IndoUS","x":7390,"y":6.58},{"s":"IndoUS","x":7430,"y":6.28},{"s":"IndoUS","x":7470,"y":6.60},{"s":"IndoUS","x":7510,"y":6.30},{"s":"IndoUS","x":7550,"y":6.60},{"s":"IndoUS","x":7590,"y":6.25},{"s":"IndoUS","x":7630,"y":6.55},{"s":"IndoUS","x":7650,"y":6.04},{"s":"IndoUS","x":7670,"y":6.52},{"s":"IndoUS","x":7710,"y":6.22},{"s":"IndoUS","x":7750,"y":6.52},{"s":"IndoUS","x":7790,"y":6.20},{"s":"IndoUS","x":7830,"y":6.52},{"s":"IndoUS","x":7870,"y":6.18},{"s":"IndoUS","x":7910,"y":6.52},{"s":"IndoUS","x":7950,"y":6.20},{"s":"IndoUS","x":7990,"y":6.54},{"s":"IndoUS","x":8030,"y":6.15},{"s":"IndoUS","x":8070,"y":6.50},{"s":"IndoUS","x":8110,"y":6.10},{"s":"IndoUS","x":8150,"y":6.50},{"s":"IndoUS","x":8190,"y":6.05},{"s":"IndoUS","x":8230,"y":6.48},{"s":"IndoUS","x":8270,"y":6.00},{"s":"IndoUS","x":8310,"y":6.45},{"s":"IndoUS","x":8350,"y":6.05},{"s":"IndoUS","x":8390,"y":6.45},{"s":"IndoUS","x":8430,"y":5.95},{"s":"IndoUS","x":8470,"y":6.42},{"s":"IndoUS","x":8498,"y":5.46},{"s":"IndoUS","x":8520,"y":6.40},{"s":"IndoUS","x":8542,"y":5.70},{"s":"IndoUS","x":8570,"y":6.42},{"s":"IndoUS","x":8610,"y":6.00},{"s":"IndoUS","x":8650,"y":6.40},{"s":"IndoUS","x":8662,"y":5.46},{"s":"IndoUS","x":8690,"y":6.45},{"s":"IndoUS","x":8730,"y":6.05},{"s":"IndoUS","x":8770,"y":6.48},{"s":"IndoUS","x":8810,"y":6.12},{"s":"IndoUS","x":8850,"y":6.50},{"s":"IndoUS","x":8890,"y":6.15},{"s":"IndoUS","x":8930,"y":6.50},{"s":"IndoUS","x":8970,"y":6.20},{"s":"IndoUS","x":9000,"y":6.45},
{"s":"IAG","x":3600,"y":7.10},{"s":"IAG","x":3640,"y":6.40},{"s":"IAG","x":3680,"y":7.05},{"s":"IAG","x":3720,"y":6.50},{"s":"IAG","x":3760,"y":7.00},{"s":"IAG","x":3800,"y":6.35},{"s":"IAG","x":3840,"y":6.95},{"s":"IAG","x":3880,"y":6.45},{"s":"IAG","x":3920,"y":7.00},{"s":"IAG","x":3960,"y":6.30},{"s":"IAG","x":4000,"y":7.25},{"s":"IAG","x":4040,"y":6.65},{"s":"IAG","x":4080,"y":7.28},{"s":"IAG","x":4120,"y":6.70},{"s":"IAG","x":4160,"y":7.30},{"s":"IAG","x":4200,"y":6.72},{"s":"IAG","x":4240,"y":7.38},{"s":"IAG","x":4280,"y":6.55},{"s":"IAG","x":4300,"y":6.45},{"s":"IAG","x":4320,"y":7.42},{"s":"IAG","x":4360,"y":6.80},{"s":"IAG","x":4400,"y":7.52},{"s":"IAG","x":4440,"y":6.85},{"s":"IAG","x":4480,"y":7.58},{"s":"IAG","x":4520,"y":6.92},{"s":"IAG","x":4560,"y":7.60},{"s":"IAG","x":4600,"y":7.00},{"s":"IAG","x":4640,"y":7.62},{"s":"IAG","x":4680,"y":6.95},{"s":"IAG","x":4720,"y":7.66},{"s":"IAG","x":4760,"y":7.05},{"s":"IAG","x":4800,"y":7.68},{"s":"IAG","x":4840,"y":7.00},{"s":"IAG","x":4861,"y":6.75},{"s":"IAG","x":4880,"y":7.70},{"s":"IAG","x":4920,"y":7.05},{"s":"IAG","x":4960,"y":7.72},{"s":"IAG","x":5000,"y":7.10},{"s":"IAG","x":5040,"y":7.74},{"s":"IAG","x":5080,"y":7.00},{"s":"IAG","x":5120,"y":7.75},{"s":"IAG","x":5160,"y":6.70},{"s":"IAG","x":5180,"y":6.64},{"s":"IAG","x":5200,"y":7.72},{"s":"IAG","x":5240,"y":7.05},{"s":"IAG","x":5280,"y":7.80},{"s":"IAG","x":5320,"y":7.15},{"s":"IAG","x":5360,"y":7.82},{"s":"IAG","x":5400,"y":7.20},{"s":"IAG","x":5440,"y":7.82},{"s":"IAG","x":5480,"y":7.25},{"s":"IAG","x":5520,"y":7.83},{"s":"IAG","x":5560,"y":7.28},{"s":"IAG","x":5600,"y":7.84},{"s":"IAG","x":5640,"y":7.30},{"s":"IAG","x":5680,"y":7.85},{"s":"IAG","x":5720,"y":7.32},{"s":"IAG","x":5760,"y":7.86},{"s":"IAG","x":5800,"y":7.30},{"s":"IAG","x":5840,"y":7.87},{"s":"IAG","x":5880,"y":7.20},{"s":"IAG","x":5893,"y":6.73},{"s":"IAG","x":5910,"y":7.86},{"s":"IAG","x":5950,"y":7.35},{"s":"IAG","x":5990,"y":7.88},{"s":"IAG","x":6030,"y":7.35},{"s":"IAG","x":6070,"y":7.86},{"s":"IAG","x":6110,"y":7.32},{"s":"IAG","x":6150,"y":7.75},{"s":"IAG","x":6190,"y":7.25},{"s":"IAG","x":6230,"y":7.65},{"s":"IAG","x":6270,"y":7.30},{"s":"IAG","x":6310,"y":7.80},{"s":"IAG","x":6350,"y":7.35},{"s":"IAG","x":6390,"y":7.78},{"s":"IAG","x":6430,"y":7.30},{"s":"IAG","x":6470,"y":7.74},{"s":"IAG","x":6510,"y":7.28},{"s":"IAG","x":6550,"y":7.70},{"s":"IAG","x":6563,"y":7.00},{"s":"IAG","x":6590,"y":7.75},{"s":"IAG","x":6630,"y":7.32},{"s":"IAG","x":6670,"y":7.82},{"s":"IAG","x":6710,"y":7.38},{"s":"IAG","x":6750,"y":7.88},{"s":"IAG","x":6790,"y":7.42},{"s":"IAG","x":6830,"y":7.92},{"s":"IAG","x":6870,"y":7.45},{"s":"IAG","x":6910,"y":7.95},{"s":"IAG","x":6950,"y":7.48},{"s":"IAG","x":6990,"y":7.98},{"s":"IAG","x":7030,"y":7.42},{"s":"IAG","x":7070,"y":7.82},{"s":"IAG","x":7110,"y":7.30},{"s":"IAG","x":7150,"y":7.62},{"s":"IAG","x":7190,"y":7.22},{"s":"IAG","x":7230,"y":7.70},{"s":"IAG","x":7270,"y":7.30},{"s":"IAG","x":7310,"y":7.78},{"s":"IAG","x":7350,"y":7.35},{"s":"IAG","x":7390,"y":7.85},{"s":"IAG","x":7430,"y":7.38},{"s":"IAG","x":7470,"y":7.88},{"s":"IAG","x":7510,"y":7.40},{"s":"IAG","x":7550,"y":7.91},{"s":"IAG","x":7590,"y":7.35},{"s":"IAG","x":7630,"y":7.85},{"s":"IAG","x":7670,"y":7.30},{"s":"IAG","x":7710,"y":7.78},{"s":"IAG","x":7750,"y":7.28},{"s":"IAG","x":7790,"y":7.72},{"s":"IAG","x":7830,"y":7.25},{"s":"IAG","x":7870,"y":7.70},{"s":"IAG","x":7910,"y":7.22},{"s":"IAG","x":7950,"y":7.72},{"s":"IAG","x":7990,"y":7.25},{"s":"IAG","x":8030,"y":7.78},{"s":"IAG","x":8070,"y":7.30},{"s":"IAG","x":8110,"y":7.90},{"s":"IAG","x":8150,"y":7.35},{"s":"IAG","x":8190,"y":7.85},{"s":"IAG","x":8230,"y":7.30},{"s":"IAG","x":8270,"y":7.78},{"s":"IAG","x":8310,"y":7.28},{"s":"IAG","x":8350,"y":7.72},{"s":"IAG","x":8390,"y":7.20},{"s":"IAG","x":8430,"y":7.65},{"s":"IAG","x":8470,"y":7.10},{"s":"IAG","x":8498,"y":6.90},{"s":"IAG","x":8520,"y":7.58},{"s":"IAG","x":8542,"y":6.92},{"s":"IAG","x":8570,"y":7.55},{"s":"IAG","x":8610,"y":7.15},{"s":"IAG","x":8650,"y":7.60},{"s":"IAG","x":8662,"y":6.90},{"s":"IAG","x":8690,"y":7.70},{"s":"IAG","x":8730,"y":7.30},{"s":"IAG","x":8770,"y":7.85},{"s":"IAG","x":8810,"y":7.40},{"s":"IAG","x":8850,"y":7.95},{"s":"IAG","x":8890,"y":7.50},{"s":"IAG","x":8930,"y":8.00},{"s":"IAG","x":8970,"y":7.40},{"s":"IAG","x":9000,"y":7.75}
 ],
 "labels": [
  {"s":"IAG","t":"IAG (< 1Å)","x":7200,"y":7.37},
  {"s":"IndoUS","t":"IndoUS (~ 1Å)","x":7250,"y":6.76},
  {"s":"Miles","t":"Miles (2.4 Å)","x":7250,"y":5.69},
  {"s":"Stelib","t":"Stelib (3 Å)","x":7250,"y":4.82},
  {"s":"HNGSL","t":"HNGSL (~ 5Å)","x":7250,"y":3.64},
  {"s":"Pickles","t":"Pickles (5 Å)","x":7250,"y":2.66},
  {"s":"Kurucz","t":"Kurucz (20 Å)","x":7250,"y":1.79}
 ],
 "arrow": [{"x":9406,"y":0.98,"y2":7.05}],
 "head": [{"x":9406,"y":7.2}],
 "ends": [{"t":"now","x":9406,"y":7.66},{"t":"1979","x":9406,"y":0.64}]
},
"resolve": {"axis": {"x": "independent", "y": "independent"}, "scale": {"color": "independent"}},
"layer": [
 {
  "data": {"name": "band"},
  "mark": {"type": "area", "opacity": 1},
  "encoding": {
   "x": {"field": "x", "type": "quantitative", "scale": {"domain": [3600, 9000], "zero": false, "nice": false},
         "axis": {"orient": "bottom", "offset": -10, "values": [4000,5000,6000,7000,8000,9000], "ticks": true, "tickSize": 10, "labelPadding": 18, "format": "d", "title": "λ(Å)", "titleFontSize": 21, "titlePadding": 2, "zindex": 2}},
   "y": {"field": "lo", "type": "quantitative", "scale": {"domain": [0, 8], "nice": false, "zero": false},
         "axis": {"orient": "left", "offset": -10, "values": [0,2,4,6,8], "ticks": true, "tickSize": 10, "labelPadding": 13, "format": "d", "title": "Fλ+ cons", "titleFontSize": 20, "titlePadding": 20, "titleColor": "#555555", "zindex": 2}},
   "y2": {"field": "hi"},
   "color": {"field": "s", "type": "nominal", "legend": null,
     "scale": {"domain": ["IAG","IndoUS","Miles"], "range": ["#c7d1cf","#ff3d26","#c968f4"]}}
  }
 },
 {
  "data": {"name": "spec"},
  "transform": [{"filter": {"field": "s", "oneOf": ["IAG","IndoUS","Miles"]}}],
  "mark": {"type": "line", "strokeJoin": "round", "strokeWidth": 1.2},
  "encoding": {
   "x": {"field": "x", "type": "quantitative", "scale": {"domain": [3600, 9000], "zero": false, "nice": false},
         "axis": {"orient": "bottom", "offset": -5, "values": [3800,4200,4400,4600,4800,5200,5400,5600,5800,6200,6400,6600,6800,7200,7400,7600,7800,8200,8400,8600,8800], "ticks": true, "tickSize": 5, "labels": false, "title": null, "zindex": 2}},
   "y": {"field": "y", "type": "quantitative", "scale": {"domain": [0, 8], "nice": false, "zero": false},
         "axis": {"orient": "left", "offset": -5, "values": [0.5,1,1.5,2.5,3,3.5,4.5,5,5.5,6.5,7,7.5], "ticks": true, "tickSize": 5, "labels": false, "title": null, "zindex": 2}},
   "color": {"field": "s", "type": "nominal", "legend": null,
     "scale": {"domain": ["IAG","IndoUS","Miles"], "range": ["#a9b7b5","#ff2a10","#b94af0"]}}
  }
 },
 {
  "data": {"name": "spec"},
  "transform": [{"filter": {"field": "s", "oneOf": ["Stelib","HNGSL"]}}],
  "mark": {"type": "line", "strokeJoin": "round", "strokeWidth": 2.6},
  "encoding": {
   "x": {"field": "x", "type": "quantitative", "scale": {"domain": [3600, 9000], "zero": false, "nice": false},
         "axis": {"orient": "top", "offset": -10, "values": [4000,5000,6000,7000,8000,9000], "ticks": true, "tickSize": 10, "labels": false, "title": null, "zindex": 2}},
   "y": {"field": "y", "type": "quantitative", "scale": {"domain": [0, 8], "nice": false, "zero": false},
         "axis": {"orient": "right", "offset": -10, "values": [0,2,4,6,8], "ticks": true, "tickSize": 10, "labels": false, "title": null, "zindex": 2}},
   "color": {"field": "s", "type": "nominal", "legend": null,
     "scale": {"domain": ["Stelib","HNGSL"], "range": ["#2846ee","#222222"]}}
  }
 },
 {
  "data": {"name": "spec"},
  "transform": [{"filter": {"field": "s", "oneOf": ["Pickles","Kurucz"]}}],
  "mark": {"type": "line", "strokeJoin": "round", "strokeWidth": 2.2},
  "encoding": {
   "x": {"field": "x", "type": "quantitative", "scale": {"domain": [3600, 9000], "zero": false, "nice": false},
         "axis": {"orient": "top", "offset": -5, "values": [3800,4200,4400,4600,4800,5200,5400,5600,5800,6200,6400,6600,6800,7200,7400,7600,7800,8200,8400,8600,8800], "ticks": true, "tickSize": 5, "labels": false, "title": null, "zindex": 2}},
   "y": {"field": "y", "type": "quantitative", "scale": {"domain": [0, 8], "nice": false, "zero": false},
         "axis": {"orient": "right", "offset": -5, "values": [0.5,1,1.5,2.5,3,3.5,4.5,5,5.5,6.5,7,7.5], "ticks": true, "tickSize": 5, "labels": false, "title": null, "zindex": 2}},
   "color": {"field": "s", "type": "nominal", "legend": null,
     "scale": {"domain": ["Pickles","Kurucz"], "range": ["#8eeedf","#88e070"]}}
  }
 },
 {
  "data": {"name": "labels"},
  "mark": {"type": "text", "align": "left", "baseline": "middle", "font": "DejaVu Sans", "fontWeight": "bold", "fontSize": 19},
  "encoding": {
   "x": {"field": "x", "type": "quantitative", "axis": null},
   "y": {"field": "y", "type": "quantitative", "axis": null},
   "text": {"field": "t", "type": "nominal"},
   "color": {"field": "s", "type": "nominal", "legend": null,
     "scale": {"domain": ["IAG","IndoUS","Miles","Stelib","HNGSL","Pickles","Kurucz"], "range": ["#2a2a2a","#ff3322","#c050f2","#3050e6","#1a1a1a","#9af2e4","#3cc83c"]}}
  }
 },
 {
  "data": {"name": "arrow"},
  "mark": {"type": "rule", "color": "#000000", "strokeWidth": 5},
  "encoding": {
   "x": {"field": "x", "type": "quantitative", "axis": null},
   "y": {"field": "y", "type": "quantitative", "axis": null},
   "y2": {"field": "y2"}
  }
 },
 {
  "data": {"name": "head"},
  "mark": {"type": "point", "shape": "triangle-up", "filled": true, "color": "#000000", "opacity": 1, "size": 900},
  "encoding": {
   "x": {"field": "x", "type": "quantitative", "axis": null},
   "y": {"field": "y", "type": "quantitative", "axis": null}
  }
 },
 {
  "data": {"name": "ends"},
  "mark": {"type": "text", "align": "center", "baseline": "middle", "font": "DejaVu Sans", "fontWeight": "bold", "fontSize": 20, "color": "#444444"},
  "encoding": {
   "x": {"field": "x", "type": "quantitative", "axis": null},
   "y": {"field": "y", "type": "quantitative", "axis": null},
   "text": {"field": "t", "type": "nominal"}
  }
 }
]
}
